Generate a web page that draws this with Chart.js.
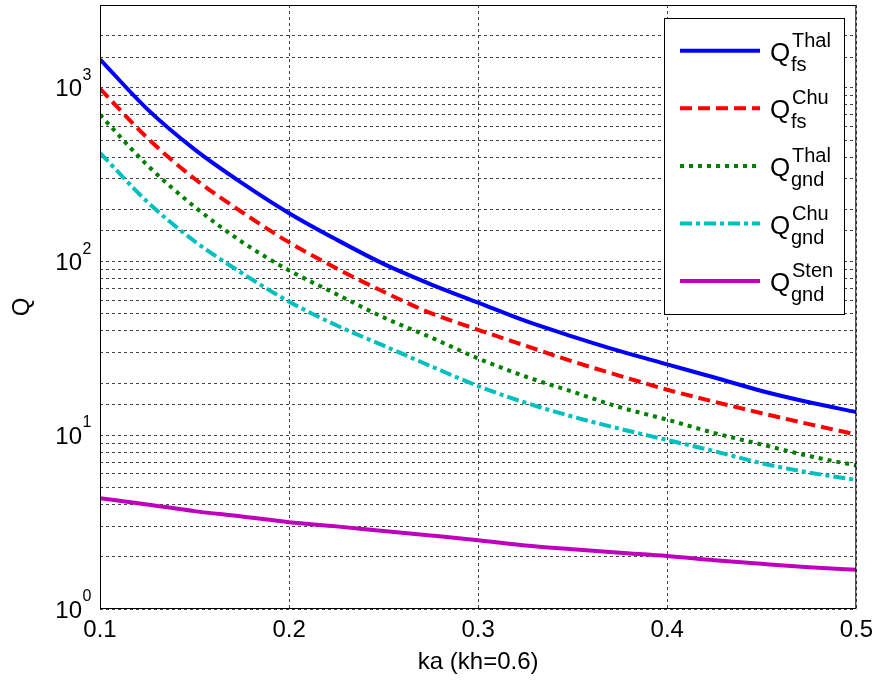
<!DOCTYPE html>
<html>
<head>
<meta charset="utf-8">
<script src="https://cdn.jsdelivr.net/npm/chart.js@4.4.1/dist/chart.umd.min.js"></script>
<style>
  html, body { margin: 0; padding: 0; background: #fff; }
</style>
</head>
<body>
<canvas id="qChart" width="880" height="686"></canvas>
<script>
// electrical size ka, sampled every 0.025
const KA = [0.1, 0.125, 0.15, 0.175, 0.2, 0.225, 0.25, 0.275, 0.3,
            0.325, 0.35, 0.375, 0.4, 0.425, 0.45, 0.475, 0.5];

// quality factor Q for each bound
const Q_THAL_FS  = [1460, 755, 443, 284, 190, 134, 97, 74, 58, 45.5, 37, 30.5, 25.6, 21.5, 18, 15.5, 13.6];
const Q_CHU_FS   = [990, 516, 300, 193, 129, 91.5, 67, 50.5, 40.5, 32.8, 26.6, 22, 18.3, 15.6, 13.4, 11.6, 10.1];
const Q_THAL_GND = [700, 359, 207, 130, 89, 65, 47.7, 36.6, 27.7, 21.8, 17.8, 14.5, 12.3, 10.3, 8.85, 7.6, 6.7];
const Q_CHU_GND  = [423, 221, 131, 86, 58.8, 43, 32.8, 25, 19.2, 15.4, 12.8, 10.9, 9.4, 8.1, 6.9, 6.1, 5.54];
const Q_STEN_GND = [4.34, 4.0, 3.66, 3.41, 3.16, 2.99, 2.81, 2.65, 2.49, 2.32, 2.21, 2.11, 2.02, 1.91, 1.82, 1.74, 1.68];

// legend text: Q with superscript / subscript
const LEGEND_SUP = ['Thal', 'Chu', 'Thal', 'Chu', 'Sten'];
const LEGEND_SUB = ['fs', 'fs', 'gnd', 'gnd', 'gnd'];

// axis ticks
const X_TICKS = [0.1, 0.2, 0.3, 0.4, 0.5];
const Y_DECADE_EXPONENTS = [0, 1, 2, 3];

const FONT = "'Liberation Sans', Arial, Helvetica, sans-serif";

function series(values, label, color, dash) {
    return {
        label: label,
        data: KA.map((x, i) => ({x: x, y: values[i]})),
        borderColor: color,
        backgroundColor: color,
        borderWidth: 4,
        borderDash: dash,
        pointRadius: 0,
        fill: false,
        tension: 0.4,
        cubicInterpolationMode: 'monotone'
    };
}

const datasets = [
    series(Q_THAL_FS,  'Q_fs^Thal',  '#0000FF', []),
    series(Q_CHU_FS,   'Q_fs^Chu',   '#FF0000', [12, 6]),
    series(Q_THAL_GND, 'Q_gnd^Thal', '#008000', [4, 5]),
    series(Q_CHU_GND,  'Q_gnd^Chu',  '#00BFBF', [12, 4, 4, 4]),
    series(Q_STEN_GND, 'Q_gnd^Sten', '#BF00BF', [])
];

// box around the plot area
const frame = {
    id: 'frame',
    afterDatasetsDraw(chart) {
        const {ctx, chartArea: a} = chart;
        ctx.save();
        ctx.strokeStyle = '#000';
        ctx.lineWidth = 1;
        ctx.strokeRect(a.left + 0.5, a.top + 0.5, a.right - a.left - 1, a.bottom - a.top - 1);
        ctx.restore();
    }
};

// 10^n labels on the log axis
const decadeLabels = {
    id: 'decadeLabels',
    afterDraw(chart) {
        const {ctx} = chart;
        const y = chart.scales.y;
        ctx.save();
        ctx.fillStyle = '#000';
        ctx.textBaseline = 'alphabetic';
        Y_DECADE_EXPONENTS.forEach(e => {
            const py = y.getPixelForValue(Math.pow(10, e));
            ctx.font = `24px ${FONT}`;
            ctx.textAlign = 'right';
            ctx.fillText('10', 82, py + 8.5);
            ctx.font = `16px ${FONT}`;
            ctx.textAlign = 'left';
            ctx.fillText(String(e), 82.5, py - 8);
        });
        ctx.restore();
    }
};

// boxed legend in the upper right corner
const boxLegend = {
    id: 'boxLegend',
    afterDraw(chart) {
        const {ctx} = chart;
        const left = 664, top = 18, width = 180, height = 296;
        ctx.save();
        ctx.fillStyle = '#fff';
        ctx.fillRect(left, top, width, height);
        ctx.strokeStyle = '#000';
        ctx.lineWidth = 1;
        ctx.strokeRect(left + 0.5, top + 0.5, width, height);
        chart.data.datasets.forEach((ds, i) => {
            const yc = 50.7 + i * 57.6;
            ctx.save();
            ctx.strokeStyle = ds.borderColor;
            ctx.lineWidth = ds.borderWidth;
            ctx.setLineDash(ds.borderDash);
            ctx.beginPath();
            ctx.moveTo(680, yc);
            ctx.lineTo(760, yc);
            ctx.stroke();
            ctx.restore();

            ctx.fillStyle = '#000';
            ctx.textAlign = 'left';
            ctx.textBaseline = 'alphabetic';
            ctx.font = `26px ${FONT}`;
            ctx.fillText('Q', 770, yc + 10);
            ctx.font = `20px ${FONT}`;
            ctx.fillText(LEGEND_SUP[i], 792, yc - 4);
            ctx.fillText(LEGEND_SUB[i], 791, yc + 20);
        });
        ctx.restore();
    }
};

new Chart(document.getElementById('qChart'), {
    type: 'line',
    data: { datasets: datasets },
    plugins: [frame, decadeLabels, boxLegend],
    options: {
        responsive: false,
        animation: false,
        layout: { padding: { left: 0, right: 23, top: 5, bottom: 0 } },
        plugins: {
            legend: { display: false },
            tooltip: { enabled: false }
        },
        scales: {
            x: {
                type: 'linear',
                min: 0.1,
                max: 0.5,
                afterBuildTicks: scale => { scale.ticks = X_TICKS.map(v => ({value: v})); },
                afterFit: scale => { scale.height = 77; },
                grid: { color: '#444', lineWidth: 1, drawTicks: false },
                border: { display: false, dash: [3, 3] },
                ticks: {
                    autoSkip: false,
                    maxRotation: 0,
                    padding: 7,
                    color: '#000',
                    font: { family: FONT, size: 24 },
                    callback: v => Number(v).toFixed(1)
                },
                title: {
                    display: true,
                    text: 'ka (kh=0.6)',
                    color: '#000',
                    font: { family: FONT, size: 24 },
                    padding: { top: 0, bottom: 9 }
                }
            },
            y: {
                type: 'logarithmic',
                min: 1,
                max: 3000,
                afterFit: scale => { scale.width = 100; },
                grid: { color: '#444', lineWidth: 1, drawTicks: false },
                border: { display: false, dash: [3, 3] },
                ticks: { display: false, autoSkip: false },
                title: {
                    display: true,
                    text: 'Q',
                    color: '#000',
                    font: { family: FONT, size: 24 },
                    padding: { top: 8, bottom: 0 }
                }
            }
        }
    }
});
</script>
</body>
</html>
